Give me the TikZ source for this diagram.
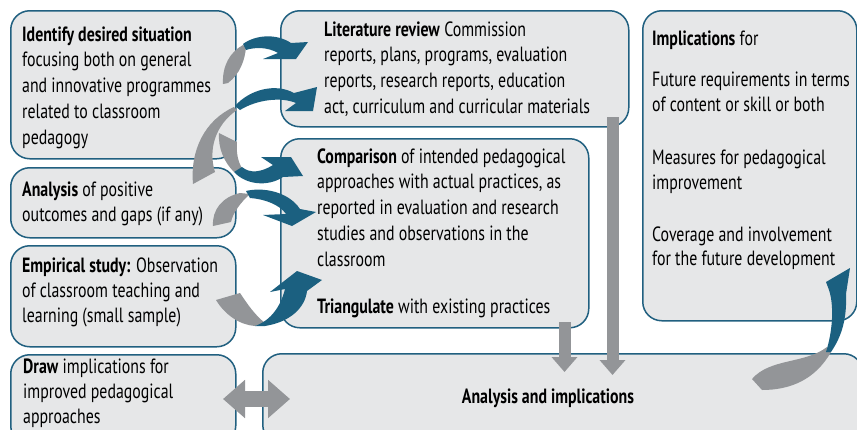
\documentclass[tikz,border=0pt]{standalone}
\usepackage{fontspec}
\setmainfont[FakeStretch=0.77]{PT Sans}
\usetikzlibrary{arrows.meta}
\definecolor{boxfill}{RGB}{230,231,232}
\definecolor{boxline}{RGB}{33,96,128}
\definecolor{arrblue}{RGB}{27,96,128}
\definecolor{arrgray}{RGB}{147,149,152}
\begin{document}
\begin{tikzpicture}[x=1pt,y=-1pt,
  box/.style={draw=boxline, fill=boxfill, line width=1.5pt, rounded corners=19pt, anchor=north west, inner sep=0pt},
  txt/.style={anchor=base west, inner sep=0pt, font=\fontsize{20.6}{25.8}\selectfont, text=black},
  txtb/.style={txt, font=\fontsize{20.6}{25}\selectfont},
  txtg/.style={txt, font=\fontsize{20.6}{24.6}\selectfont},
  grayarrow/.style={draw=arrgray, line width=12pt, -{Triangle[width=25pt,length=15pt]}}]
\fill[white] (0,0) rectangle (857,429);
\useasboundingbox (0,0) rectangle (857,429);
% boxes
\node[box, minimum width=225pt, minimum height=148pt] (A) at (10,10) {};
\node[box, minimum width=225pt, minimum height=70pt] (B) at (10,167) {};
\node[box, minimum width=225pt, minimum height=101pt] (C) at (10,245) {};
\node[box, minimum width=225pt, minimum height=90pt] (D) at (10,354) {};
\node[box, minimum width=348pt, minimum height=116pt] (E) at (280,10) {};
\node[box, minimum width=308pt, minimum height=189pt] (F) at (280,138) {};
\node[box, minimum width=214pt, minimum height=310pt] (G) at (642,10) {};
\node[box, minimum width=600pt, minimum height=90pt] (H) at (262,353) {};
% texts
\node[txt] (tA) at (22,41) {\parbox[t]{300pt}{\raggedright\textbf{Identify desired situation}\\focusing both on general\\and innovative programmes\\related to classroom\\pedagogy}};
\node[txt] (tB) at (22,196) {\parbox[t]{300pt}{\raggedright\textbf{Analysis} of positive\\outcomes and gaps (if any)}};
\node[txtb] (tC) at (22,272) {\parbox[t]{300pt}{\raggedright\textbf{Empirical study:} Observation\\of classroom teaching and\\learning (small sample)}};
\node[txtb] (tD) at (23,373) {\parbox[t]{300pt}{\raggedright\textbf{Draw} implications for\\improved pedagogical\\approaches}};
\node[txt] (tE) at (324,36) {\parbox[t]{400pt}{\raggedright\textbf{Literature review} Commission\\reports, plans, programs, evaluation\\reports, research reports, education\\act, curriculum and curricular materials}};
\node[txt] (tF) at (317,163) {\parbox[t]{400pt}{\raggedright\textbf{Comparison} of intended pedagogical\\approaches with actual practices, as\\reported in evaluation and research\\studies and observations in the\\classroom\\[21pt]\textbf{Triangulate} with existing practices}};
\node[txtg] (tG) at (652,45) {\parbox[t]{300pt}{\raggedright\textbf{Implications} for\\[17pt]Future requirements in terms\\of content or skill or both\\[29pt]Measures for pedagogical\\improvement\\[27pt]Coverage and involvement\\for the future development}};
\node[anchor=base, inner sep=0pt, font=\fontsize{20.6}{25}\selectfont\bfseries] (tH) at (548,403) {Analysis and implications};
% straight gray arrows
\coordinate (l1) at (612.5,117);
\coordinate (l2) at (612.5,375);
\coordinate (s1) at (564.5,322);
\coordinate (s2) at (564.5,372);
\coordinate (d1) at (223,399);
\coordinate (d2) at (290,399);
\draw[grayarrow] (l1) -- (l2);
\draw[grayarrow] (s1) -- (s2);
\draw[draw=arrgray, line width=16pt, {Triangle[width=37pt,length=22pt]}-{Triangle[width=37pt,length=22pt]}] (d1) -- (d2);
% ribbon arrow 1 (A -> E, top)
\fill[arrgray] (223,84) .. controls (222,66) and (230,52) .. (243,45) -- (246,47) .. controls (245,60) and (240,74) .. (228,83) -- cycle;
\fill[arrblue] (243,44) .. controls (255,35) and (276,33) .. (291,43) -- (308,42) -- (296,59) -- (263,59) -- (278,53) .. controls (268,47) and (255,47) .. (246,50) -- cycle;
% ribbon arrow 2 (A -> E, lower)
\fill[arrgray] (193,184) .. controls (190,150) and (205,120) .. (234,107) -- (237,110) .. controls (215,125) and (208,150) .. (215,172) -- cycle;
\fill[arrblue] (235,106) .. controls (250,89) and (276,83) .. (294,93) -- (317,87) -- (313,111) -- (285,111) -- (296,103) .. controls (282,97) and (258,99) .. (240,110) -- cycle;
% ribbon arrow 3 (A -> F)
\fill[arrgray] (219,133) -- (237,142) .. controls (236,152) and (238,162) .. (242,168) -- (234,172) .. controls (224,162) and (218,148) .. (219,133) -- cycle;
\fill[arrblue] (242,167) .. controls (250,174) and (262,172) .. (273,165) -- (261,157) -- (291,157) -- (303,176) -- (283,177) .. controls (268,187) and (246,185) .. (234,172) -- cycle;
% ribbon arrow 4 (B -> F)
\fill[arrgray] (213,226) .. controls (212,210) and (222,197) .. (240,193) -- (250,194) .. controls (240,203) and (233,213) .. (231,222) -- cycle;
\fill[arrblue] (246,191) .. controls (262,187) and (288,191) .. (300,209) -- (316,212) -- (292,226) -- (263,215) -- (286,214) .. controls (280,205) and (265,199) .. (250,198) -- cycle;
% ribbon arrow 5 (C -> F)
\fill[arrgray] (216,300) -- (240,293) .. controls (248,305) and (255,315) .. (265,323) -- (255,326) .. controls (240,325) and (225,315) .. (216,300) -- cycle;
\fill[arrblue] (255,326) .. controls (272,320) and (281,305) .. (285,289) -- (270,292) -- (297,271) -- (322,280) -- (307,291) .. controls (305,308) and (290,322) .. (265,326) -- cycle;
% ribbon arrow 6 (H -> G)
\fill[arrgray] (752,379) .. controls (770,358) and (805,364) .. (827,347) -- (831,352) .. controls (815,380) and (790,390) .. (762,390) -- cycle;
\fill[arrblue] (826,352) .. controls (833,330) and (834,305) .. (829,290) -- (826,282) -- (850,268) -- (846,294) .. controls (847,318) and (842,336) .. (831,352) -- cycle;
\end{tikzpicture}
\end{document}
